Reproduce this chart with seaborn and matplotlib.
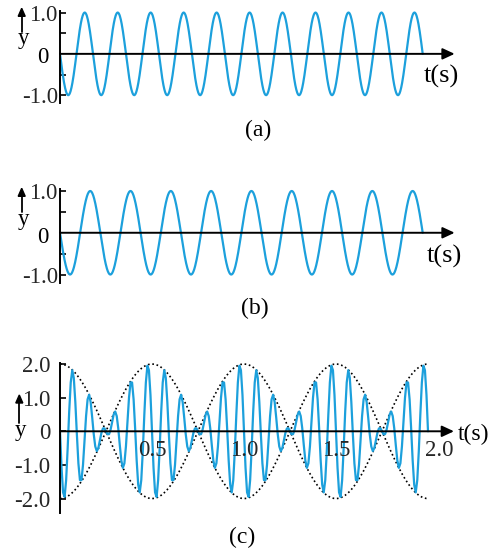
import numpy as np
import matplotlib.pyplot as plt
import seaborn as sns

# wave data
freq_a = 11          # Hz, panel (a): 11 cycles in the window
freq_b = 9           # Hz, panel (b): 9 cycles in the window
window_ab = 1.0      # s
amp = 1.0
freq_c = [12, 10]    # Hz, the two components giving the drawn beat pattern in (c)
window_c = 2.0       # s
n_ab = 1200
n_c = 241            # coarse sampling, the (c) curve looks zig-zagged

yticks_ab = [-1.0, -0.5, 0.5, 1.0]
ytick_labels_ab = ['-1.0', '', '', '1.0']
yticks_c = [-2.0, -1.0, 0.0, 1.0, 2.0]
ytick_labels_c = ['-2.0', '-1.0', '0', '1.0', '2.0']
xticks_c = [0.5, 1.0, 1.5, 2.0]
xtick_labels_c = ['0.5', '1.0', '1.5', '2.0']
captions = ['(a)', '(b)', '(c)']

wave_color = '#1ca0dc'
W, H = 491, 550
num_size = 16.5

sns.set_style('white')
plt.rcParams['font.family'] = ['Liberation Serif', 'DejaVu Serif']

fig = plt.figure(figsize=(W / 100, H / 100), dpi=100)


def add_panel(x_left, px_per_x, xlim, y_top, y_bottom, ylim):
    width = (xlim[1] - xlim[0]) * px_per_x
    ax = fig.add_axes([x_left / W, 1 - y_bottom / H, width / W, (y_bottom - y_top) / H])
    ax.set_xlim(xlim)
    ax.set_ylim(ylim)
    ax.patch.set_alpha(0)
    for s in ['top', 'right', 'bottom']:
        ax.spines[s].set_visible(False)
    ax.spines['left'].set_linewidth(1.4)
    ax.spines['left'].set_color('black')
    ax.set_xticks([])
    ax.set_xlabel('')
    ax.set_ylabel('')
    return ax


def t_axis(ax, x_end):
    ax.annotate('', xy=(x_end, 0), xytext=(0, 0),
                arrowprops=dict(arrowstyle='-|>,head_length=0.6,head_width=0.28',
                                mutation_scale=12, color='black', lw=1.4,
                                shrinkA=0, shrinkB=0),
                annotation_clip=False, zorder=3)


def fig_text(x, y, s, size, **kw):
    fig.text(x / W, 1 - y / H, s, fontsize=size, color='black', **kw)


def y_arrow(x, y_tail, y_tip):
    fig.add_artist(plt.Line2D([x / W, x / W], [1 - y_tail / H, 1 - (y_tip + 4) / H],
                              color='black', lw=1.3))
    fig.add_artist(plt.Polygon([[x / W, 1 - y_tip / H],
                                [(x - 3.5) / W, 1 - (y_tip + 8) / H],
                                [(x + 3.5) / W, 1 - (y_tip + 8) / H]],
                               closed=True, color='black', transform=fig.transFigure))


# panel (a)
t_a = np.linspace(0, window_ab, n_ab)
ax_a = add_panel(60, 362.7, (0, 1.1), 10.5, 103, (-1.19, 1.05))
sns.lineplot(x=t_a, y=-amp * np.sin(2 * np.pi * freq_a * t_a), ax=ax_a,
             color=wave_color, lw=1.6, sort=False, estimator=None)

# panel (b)
t_b = np.linspace(0, window_ab, n_ab)
ax_b = add_panel(60, 362.7, (0, 1.1), 189, 283.3, (-1.21, 1.048))
sns.lineplot(x=t_b, y=-amp * np.sin(2 * np.pi * freq_b * t_b), ax=ax_b,
             color=wave_color, lw=1.6, sort=False, estimator=None)

for ax in [ax_a, ax_b]:
    ax.set_yticks(yticks_ab, labels=ytick_labels_ab)
    ax.tick_params(axis='y', direction='in', length=4.5, width=1.4, pad=1.5,
                   labelsize=num_size, left=True)
    t_axis(ax, 1.088)

# panel (c)
t_c = np.linspace(0, window_c, n_c)
y_c = -amp * np.sin(2 * np.pi * freq_c[0] * t_c) - amp * np.sin(2 * np.pi * freq_c[1] * t_c)
t_env = np.linspace(0, window_c, 400)
env = 2 * amp * np.cos(np.pi * (freq_c[0] - freq_c[1]) * t_env)

ax_c = add_panel(60, 184, (0, 2.2), 362.7, 513, (-2.43, 2.04))
sns.lineplot(x=t_env, y=env, ax=ax_c, color='black', lw=1.2,
             linestyle=(0, (1, 1.6)), sort=False, estimator=None)
sns.lineplot(x=t_env, y=-env, ax=ax_c, color='black', lw=1.2,
             linestyle=(0, (1, 1.6)), sort=False, estimator=None)
sns.lineplot(x=t_c, y=y_c, ax=ax_c, color=wave_color, lw=1.6,
             sort=False, estimator=None)
ax_c.set_yticks(yticks_c, labels=ytick_labels_c)
ax_c.tick_params(axis='y', direction='in', length=4.5, width=1.4, pad=7,
                 labelsize=num_size, left=True)
t_axis(ax_c, 2.141)
for xv, lab in zip(xticks_c, xtick_labels_c):
    if lab == '2.0':
        ax_c.annotate(lab, (xv, 0), xytext=(-2, -14), textcoords='offset points',
                      ha='left', va='center', fontsize=num_size, annotation_clip=False)
    else:
        ax_c.annotate(lab, (xv, 0), xytext=(0, -14), textcoords='offset points',
                      ha='center', va='center', fontsize=num_size)

# zero labels of (a), (b)
fig_text(48, 63, '0', num_size, ha='right', va='baseline')
fig_text(48, 243, '0', num_size, ha='right', va='baseline')

# y labels with arrows
y_arrow(21.7, 31.7, 8.3)
fig_text(23, 44, 'y', 16.5, ha='center', va='baseline')
y_arrow(21.7, 211.7, 188.3)
fig_text(23, 225, 'y', 16.5, ha='center', va='baseline')
y_arrow(19.3, 423, 395)
fig_text(20, 436, 'y', 16.5, ha='center', va='baseline')

# t(s) labels
fig_text(424, 76, 't(s)', 19, ha='left', va='center')
fig_text(427, 256, 't(s)', 19, ha='left', va='center')
fig_text(458, 434, 't(s)', 17, ha='left', va='center')

# captions
fig_text(258, 130, captions[0], 17, ha='center', va='center')
fig_text(255, 308, captions[1], 17, ha='center', va='center')
fig_text(242, 537, captions[2], 17, ha='center', va='center')

fig.savefig('out.png', dpi=100)
